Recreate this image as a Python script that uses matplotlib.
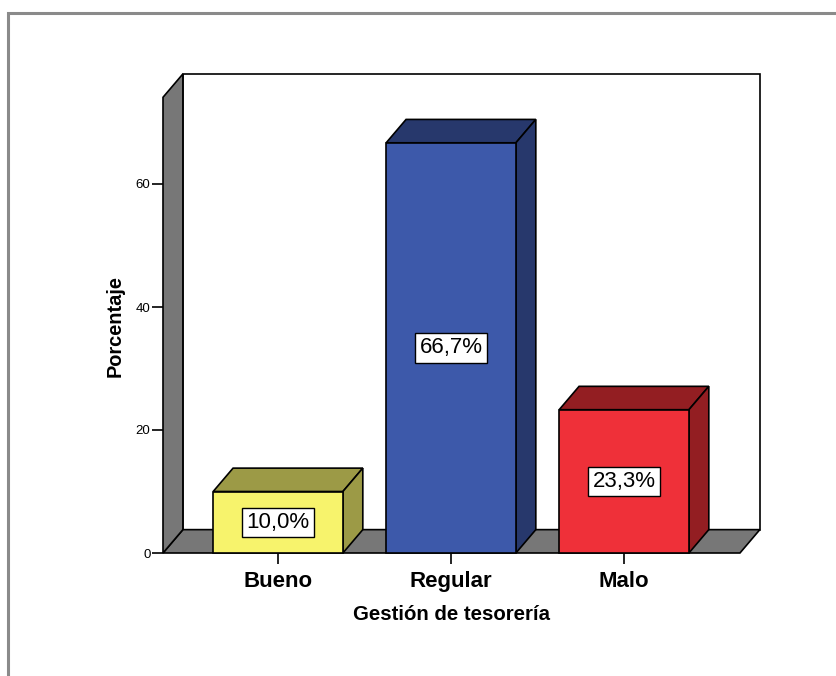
import matplotlib
matplotlib.use('Agg')
import matplotlib.pyplot as plt
from matplotlib.patches import Polygon, Rectangle

plt.rcParams['font.family'] = ['Liberation Sans', 'DejaVu Sans']

# datos del gráfico
categorias = ['Bueno', 'Regular', 'Malo']
porcentajes = [10.0, 66.7, 23.3]
etiquetas = ['10,0%', '66,7%', '23,3%']
color_frente = ['#F7F36C', '#3D59AA', '#EF3039']
color_lado = ['#9C9A46', '#27386C', '#931E22']
ticks_y = [0, 20, 40, 60]

# geometría del efecto 3D (en unidades de datos)
ancho = 0.75
dx, dy = 0.115, 3.8
x_izq, x_der = -0.665, 2.67
y_tope = 74.1
gris = '#777777'

fig = plt.figure(figsize=(8.37, 6.76), dpi=100)
# marco exterior gris
fig.patches.append(Rectangle((8 / 837, -0.1), 2, 1.1 - 13 / 676, transform=fig.transFigure,
                             fill=False, edgecolor='#8a8a8a', linewidth=2.2))

ax = fig.add_axes([163 / 837, 1 - 553 / 676, 597 / 837, 480 / 676])
ax.set_xlim(x_izq, x_izq + 597 / 173)
ax.set_ylim(0, 480 / 6.15)
for s in ax.spines.values():
    s.set_visible(False)
ax.patch.set_visible(False)

kw = dict(edgecolor='black', linewidth=1.2, clip_on=False, joinstyle='miter')

# pared del fondo, suelo y pared izquierda
ax.add_patch(Polygon([(x_izq + dx, dy), (x_der + dx, dy), (x_der + dx, y_tope + dy),
                      (x_izq + dx, y_tope + dy)], facecolor='white', **kw))
ax.add_patch(Polygon([(x_izq, 0), (x_der, 0), (x_der + dx, dy), (x_izq + dx, dy)],
                     facecolor=gris, **kw))
ax.add_patch(Polygon([(x_izq, 0), (x_izq + dx, dy), (x_izq + dx, y_tope + dy), (x_izq, y_tope)],
                     facecolor=gris, **kw))

# barras con cara frontal, superior y lateral
for i, v in enumerate(porcentajes):
    x0, x1 = i - ancho / 2, i + ancho / 2
    ax.add_patch(Polygon([(x0, v), (x1, v), (x1 + dx, v + dy), (x0 + dx, v + dy)],
                         facecolor=color_lado[i], **kw))
    ax.add_patch(Polygon([(x1, 0), (x1 + dx, dy), (x1 + dx, v + dy), (x1, v)],
                         facecolor=color_lado[i], **kw))
    ax.add_patch(Rectangle((x0, 0), ancho, v, facecolor=color_frente[i], **kw))
    ax.text(i, v / 2, etiquetas[i], ha='center', va='center', fontsize=16,
            bbox=dict(boxstyle='square,pad=0.19', facecolor='white', edgecolor='black', linewidth=1))

ax.set_xticks(range(len(categorias)))
ax.set_xticklabels(categorias, fontsize=16, fontweight='bold')
ax.set_yticks(ticks_y)
ax.set_yticklabels([str(t) for t in ticks_y], fontsize=9.5)
ax.tick_params(axis='x', length=8, width=1.2, pad=5)
ax.tick_params(axis='y', length=8, width=1.2, pad=1)
ax.set_xlabel('Gestión de tesorería', fontsize=14.7, fontweight='bold', va='center')
ax.set_ylabel('Porcentaje', fontsize=14.4, fontweight='bold', va='center')
ax.xaxis.set_label_coords((452 - 163) / 597, (553 - 615) / 480)
ax.yaxis.set_label_coords((115 - 163) / 597, (553 - 326) / 480)

fig.savefig('out.png', dpi=100)
